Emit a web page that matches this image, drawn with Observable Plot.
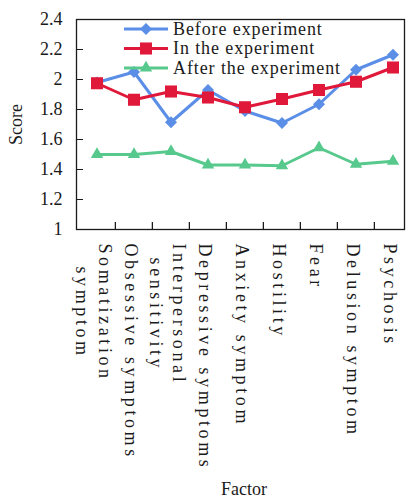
<!DOCTYPE html>
<html><head><meta charset="utf-8">
<script src="https://cdn.jsdelivr.net/npm/d3@7"></script>
<script src="https://cdn.jsdelivr.net/npm/@observablehq/plot@0.6"></script>
<style>
body{margin:0;background:#fff;}
#chart{position:relative;width:406px;height:499px;overflow:hidden;}
#chart svg{font-family:"Liberation Serif","Times New Roman",serif;}
#legend{position:absolute;left:0;top:0;pointer-events:none;}
</style></head><body><div id="chart"></div>
<script>
const categories = ["Somatization\nsymptom","Obsessive symptoms","Interpersonal\nsensitivity","Depressive symptoms","Anxiety symptom","Hostility","Fear","Delusion symptom","Psychosis"];
const seriesNames = ["Before experiment","In the experiment","After the experiment"];
const beforeValues = [1.98, 2.05, 1.715, 1.93, 1.79, 1.71, 1.835, 2.065, 2.165];
const duringValues = [1.975, 1.865, 1.92, 1.88, 1.815, 1.87, 1.93, 1.985, 2.08];
const afterValues = [1.50, 1.50, 1.52, 1.43, 1.43, 1.425, 1.545, 1.435, 1.455];
const yTicks = [1, 1.2, 1.4, 1.6, 1.8, 2, 2.2, 2.4];
const xTitle = "Factor";
const yTitle = "Score";
const seriesColors = ["#5b8ee6", "#e0193a", "#57c98c"];
const seriesSymbols = ["diamond2", "square", "triangle"];
const symbolRadii = [5.4, 6.8, 4.6];

const valuesBySeries = [beforeValues, duringValues, afterValues];
const rows = seriesNames.flatMap((s, k) => categories.map((c, i) => ({series: s, cat: c, value: valuesBySeries[k][i]})));

const W = 406, H = 499, mL = 76, mT = 19, mB = 270, mR = 2;
const bandStart = 76.4, bandEnd = 411.6;
const bw = (bandEnd - bandStart) / categories.length;
const ink = "#1a1a1a";
const serif = "'Liberation Serif', 'Times New Roman', serif";

const seriesMarks = seriesNames.flatMap((s, k) => [
  Plot.line(rows.filter(d => d.series === s), {x: "cat", y: "value", stroke: "series", strokeWidth: 3}),
  Plot.dot(rows.filter(d => d.series === s), {x: "cat", y: "value", fill: "series", symbol: "series", r: symbolRadii[k], stroke: null})
]);

const chart = Plot.plot({
  width: W, height: H,
  marginLeft: mL, marginTop: mT, marginBottom: mB, marginRight: mR,
  style: {fontFamily: serif, fontSize: "18px", color: ink, background: "white", overflow: "visible"},
  x: {type: "band", domain: categories, range: [bandStart, bandEnd], padding: 0, axis: null},
  y: {domain: [1, 2.4]},
  color: {domain: seriesNames, range: seriesColors},
  symbol: {domain: seriesNames, range: seriesSymbols},
  marks: [
    Plot.axisY({ticks: yTicks, tickSize: -7, tickPadding: 21, tickFormat: d => String(d), label: yTitle, labelAnchor: "center", labelArrow: "none", labelOffset: 67, fontSize: 18, stroke: ink, fill: ink}),
    Plot.ruleX(categories.slice(1), {x: d => d, dx: -bw / 2, insetTop: (H - mB - mT) - 7, stroke: ink, strokeWidth: 1.3}),
    Plot.text(categories, {x: d => d, frameAnchor: "bottom", rotate: 90, textAnchor: "start", lineAnchor: "middle", dy: 14, dx: -2, fontSize: 18, lineHeight: 1.3, fill: ink}),
    ...seriesMarks,
    Plot.frame({stroke: ink, strokeWidth: 1.3}),
    Plot.text([xTitle], {frameAnchor: "bottom", dx: 3.5, dy: 260, lineAnchor: "middle", fontSize: 18, fill: ink})
  ]
});
document.getElementById("chart").appendChild(chart);

// letter-spaced category labels; center the lines of two-line labels on each other
d3.select(chart).selectAll("text").filter(function() {
  return (this.getAttribute("transform") || "").includes("rotate(90)");
}).each(function() {
  this.style.letterSpacing = "3.6px";
  const spans = this.querySelectorAll("tspan");
  if (spans.length > 1) {
    const L0 = spans[0].getComputedTextLength();
    spans.forEach((sp, i) => { if (i > 0) sp.setAttribute("x", (L0 - sp.getComputedTextLength()) / 2); });
  }
});

// legend (inside the plot area, top)
const legend = d3.select("#chart").append("svg").attr("id", "legend").attr("width", W).attr("height", H);
const legendX0 = 124, legendX1 = 168, legendTop = 29, legendStep = 19.5, legendTextX = 173;
seriesNames.forEach((s, k) => {
  const y = legendTop + k * legendStep;
  const g = legend.append("g");
  g.append("line").attr("x1", legendX0).attr("x2", legendX1).attr("y1", y).attr("y2", y).attr("stroke", seriesColors[k]).attr("stroke-width", 3);
  const sym = {diamond2: d3.symbolDiamond2, square: d3.symbolSquare, triangle: d3.symbolTriangle}[seriesSymbols[k]];
  g.append("path").attr("d", d3.symbol(sym, symbolRadii[k] * symbolRadii[k] * Math.PI)()).attr("transform", `translate(${(legendX0 + legendX1) / 2},${y})`).attr("fill", seriesColors[k]);
  g.append("text").attr("x", legendTextX).attr("y", y).attr("dy", "0.33em").style("font-family", serif).attr("font-size", 18).attr("letter-spacing", "0.9px").attr("fill", ink).text(s);
});
</script>
</body></html>
